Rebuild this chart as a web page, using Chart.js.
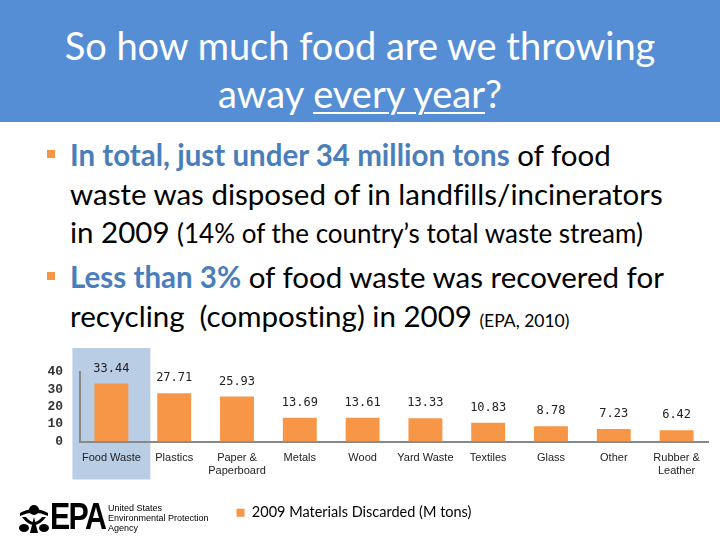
<!DOCTYPE html>
<html>
<head>
<meta charset="utf-8">
<script src="https://cdn.jsdelivr.net/npm/chart.js@4"></script>
<style>
  body { margin: 0; width: 720px; height: 540px; background: #fff; position: relative; overflow: hidden; font-family: Lato, "Open Sans", sans-serif; font-variant-ligatures: none; }
  .band { position: absolute; left: 0; top: 0; width: 720px; height: 122px; background: #558ed5; }
  .title { position: absolute; left: 0; top: 21px; width: 720px; text-align: center; color: #fff; font-size: 38px; line-height: 48px; }
  .title u { text-decoration-thickness: 2px; text-underline-offset: 4px; }
  .bullets { position: absolute; left: 70px; color: #000; font-size: 29.5px; line-height: 38.5px; white-space: nowrap; }
  .hl { color: #4a7ebb; font-weight: bold; }
  .sq { position: absolute; width: 8px; height: 8px; background: #f79646; left: 47px; }
  .small { font-size: 26px; }
  .tiny { font-size: 17.5px; }
  #wrap { position: absolute; left: 0; top: 340px; width: 720px; height: 190px; }
  .logo { position: absolute; left: 16px; top: 500px; height: 34px; width: 220px; }
  .logo .epa { position: absolute; left: 34px; top: -4px; font-family: "Liberation Sans", Arial, sans-serif; font-weight: bold; font-size: 37px; letter-spacing: -2px; color: #000; transform: scaleX(0.82); transform-origin: left top; }
  .logo .agency { position: absolute; left: 92px; top: 3px; font-family: "Liberation Sans", Arial, sans-serif; font-size: 9px; line-height: 10px; color: #000; }
</style>
</head>
<body>
<div class="band"></div>
<div class="title">So how much food are we throwing<br>away <u>every year</u>?</div>

<div class="sq" style="top:150px"></div>
<div class="bullets" style="top:136px">
  <span class="hl">In total, just under 34 million tons</span> of food<br>
  waste was disposed of in landfills/incinerators<br>
  in 2009 <span class="small">(14% of the country’s total waste stream)</span>
</div>
<div class="sq" style="top:272px"></div>
<div class="bullets" style="top:258px">
  <span class="hl">Less than 3%</span> of food waste was recovered for<br>
  recycling&nbsp; (composting) in 2009 <span class="tiny">(EPA, 2010)</span>
</div>

<div id="wrap"><canvas id="chart"></canvas></div>

<div class="logo">
  <svg width="32" height="30" viewBox="0 0 32 30" style="position:absolute;left:2px;top:3px">
    <circle cx="16" cy="7" r="5" fill="#000"/>
    <path d="M2 10 Q16 2 30 10 L30 13 Q16 6 2 13 Z" fill="#000"/>
    <path d="M4 14 Q16 30 28 14 L24 14 Q16 24 8 14 Z" fill="#000"/>
    <path d="M16 14 L12 30 L20 30 Z" fill="#000"/>
    <ellipse cx="6" cy="25" rx="5" ry="4" fill="#000"/>
    <ellipse cx="26" cy="25" rx="5" ry="4" fill="#000"/>
  </svg>
  <div class="epa">EPA</div>
  <div class="agency">United States<br>Environmental Protection<br>Agency</div>
</div>

<script>
// chart data
const categories = ['Food Waste', 'Plastics', ['Paper &', 'Paperboard'], 'Metals', 'Wood',
  'Yard Waste', 'Textiles', 'Glass', 'Other', ['Rubber &', 'Leather']];
const discarded = [33.44, 27.71, 25.93, 13.69, 13.61, 13.33, 10.83, 8.78, 7.23, 6.42];
const yTicks = [0, 10, 20, 30, 40];
const seriesName = '2009 Materials Discarded (M tons)';

// light blue box behind the first category
const highlight = {
  id: 'highlight',
  beforeDraw(c) {
    const x = c.scales.x.getPixelForValue(0);
    const a = c.chartArea;
    c.ctx.save();
    c.ctx.fillStyle = '#b9cde5';
    c.ctx.fillRect(x - 39, a.top - 24, 78, a.bottom - a.top + 62);
    c.ctx.restore();
  }
};

// value labels above bars
const valueLabels = {
  id: 'valueLabels',
  afterDatasetsDraw(c) {
    const ctx = c.ctx;
    ctx.save();
    ctx.font = '12px "DejaVu Sans Mono", monospace';
    ctx.fillStyle = '#222';
    ctx.textAlign = 'center';
    ctx.textBaseline = 'middle';
    c.getDatasetMeta(0).data.forEach((bar, i) => {
      ctx.fillText(discarded[i].toFixed(2), bar.x, bar.y - 15);
    });
    ctx.restore();
  }
};

new Chart(document.getElementById('chart'), {
  type: 'bar',
  data: {
    labels: categories,
    datasets: [{
      label: seriesName,
      data: discarded,
      backgroundColor: '#f79646',
      barPercentage: 0.54,
      categoryPercentage: 1.0
    }]
  },
  options: {
    responsive: true,
    maintainAspectRatio: false,
    animation: false,
    layout: { padding: { top: 32, right: 12, left: 0, bottom: 0 } },
    plugins: {
      tooltip: { enabled: false },
      legend: {
        position: 'bottom',
        labels: { boxWidth: 8, boxHeight: 8, color: '#000', font: { family: 'Lato', size: 14.5 } }
      }
    },
    scales: {
      x: {
        grid: { display: false, drawTicks: false },
        border: { color: '#888', width: 2 },
        ticks: { color: '#222', padding: 10, maxRotation: 0, autoSkip: false,
          font: { family: '"Liberation Sans", Arial', size: 11 } },
        afterFit(s) { s.height = 54; }
      },
      y: {
        min: 0, max: 40,
        afterBuildTicks(s) { s.ticks = yTicks.map(v => ({ value: v })); },
        grid: { display: false, drawTicks: false },
        border: { color: '#888', width: 2 },
        ticks: { color: '#333', padding: 17, autoSkip: false,
          font: { family: '"Liberation Mono", monospace', size: 13, weight: 'bold' } },
        afterFit(s) { s.width = 80; }
      }
    }
  },
  plugins: [highlight, valueLabels]
});
</script>
</body>
</html>
